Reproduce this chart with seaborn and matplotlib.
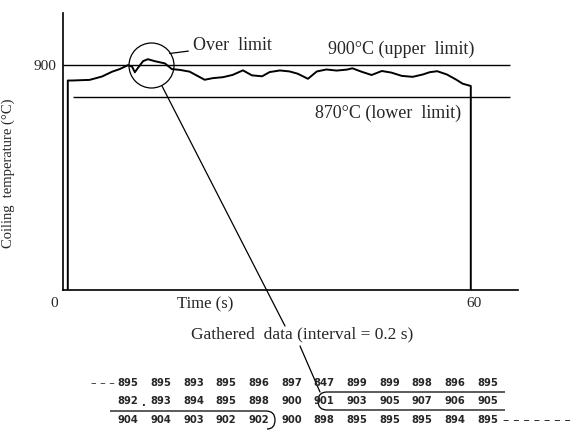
import matplotlib
matplotlib.use("Agg")
import matplotlib.pyplot as plt
import matplotlib.transforms as mtransforms
from matplotlib.lines import Line2D
from matplotlib.path import Path
from matplotlib.patches import PathPatch
import seaborn as sns

# ---------------- data ----------------
time_s = [0.7, 0.7, 1.3, 3.9, 5.7, 7.2, 8.3, 9.5, 10.1, 10.5,
          10.9, 11.7, 12.4, 13.4, 14.9, 15.9, 17.1, 18.5, 20.7, 21.9,
          23.4, 24.8, 26.3, 27.6, 29.1, 30.2, 31.7, 33.1, 34.3, 35.8,
          37.1, 38.5, 40.0, 41.5, 42.3, 43.6, 45.1, 46.6, 48.0, 49.5,
          51.1, 52.6, 53.6, 54.7, 56.1, 57.5, 58.4, 59.4, 59.6, 59.6]
temp_c = [680, 885.6, 885.6, 886.2, 889.3, 893.8, 896.2, 899.8, 898.4, 893.2,
          896.8, 903.5, 905.3, 903.5, 901.4, 896.2, 895.4, 893.8, 886.3, 887.8,
          888.7, 890.8, 895.0, 890.4, 889.5, 893.4, 894.9, 894.0, 891.9, 887.2,
          894.0, 895.8, 894.8, 895.7, 896.9, 893.8, 890.7, 894.4, 892.9, 889.9,
          889.0, 891.2, 893.3, 894.2, 891.2, 886.3, 882.7, 880.9, 880.5, 680]

upper_limit = 900
lower_limit = 870
upper_span = [0.0, 65.3]
lower_span = [1.5, 65.4]

x_ticks = [0, 60]
x_tick_labels = ["0", "60"]
y_ticks = [900]
y_tick_labels = ["900"]

over_limit_center = (12.8, 899.5)

row1 = [895, 895, 893, 895, 896, 897, 847, 899, 899, 898, 896, 895]
row2 = [892, 893, 894, 895, 898, 900, 901, 903, 905, 907, 906, 905]
row3 = [904, 904, 903, 902, 902, 900, 898, 895, 895, 895, 894, 895]

# ---------------- figure ----------------
W, H = 582, 438
sns.set_theme(style="white")
plt.rcParams["font.family"] = ["Liberation Serif", "DejaVu Serif"]

fig = plt.figure(figsize=(W / 100, H / 100), dpi=100)
px = mtransforms.Affine2D().scale(1 / W, -1 / H).translate(0, 1) + fig.transFigure

ax = fig.add_axes([63 / W, 1 - 290 / H, (518 - 63) / W, (290 - 13) / H])
ax.set_xlim(0, 66.5)
ax.set_ylim(692, 948)

sns.lineplot(x=time_s, y=temp_c, ax=ax, sort=False, estimator=None,
             color="black", linewidth=1.4)

ax.hlines(upper_limit, *upper_span, color="black", linewidth=1.0)
ax.hlines(lower_limit, *lower_span, color="black", linewidth=1.0)

sns.despine(ax=ax)
for s in ["left", "bottom"]:
    ax.spines[s].set_color("black")
    ax.spines[s].set_linewidth(1.2)

ax.set_xticks(x_ticks)
ax.set_xticklabels(x_tick_labels, fontsize=11)
ax.set_yticks(y_ticks)
ax.set_yticklabels(y_tick_labels, fontsize=11)
ax.tick_params(axis="x", length=0, pad=5)
ax.tick_params(axis="y", length=3, width=1, direction="out", pad=2, color="black")
lbl0 = ax.get_xticklabels()[0]
lbl0.set_transform(lbl0.get_transform() + mtransforms.ScaledTranslation(-9 / 100, 0, fig.dpi_scale_trans))

ax.set_ylabel("Coiling  temperature (°C)", fontsize=10.5)
ax.yaxis.set_label_coords((15 - 63) / 455, 0.42)
ax.set_xlabel("Time (s)", fontsize=12)
ax.xaxis.set_label_coords((205 - 63) / 455, -6 / 277)
ax.xaxis.label.set_va("top")

# over-limit circle and annotations
ax.plot([over_limit_center[0]], [over_limit_center[1]], marker="o", ms=32.4,
        mfc="none", mec="black", mew=0.9)
ax.annotate("Over  limit", xy=(15.6, 910.6), xytext=(19.0, 918),
            fontsize=13, ha="left", va="center",
            arrowprops=dict(arrowstyle="-", color="black", lw=0.9,
                            shrinkA=1, shrinkB=0))
ax.text(49.4, 914.5, "900°C (upper  limit)", fontsize=13, ha="center", va="center")
ax.text(47.5, 855, "870°C (lower  limit)", fontsize=13, ha="center", va="center")

# leader lines
fig.add_artist(Line2D([162, 285], [86, 326], transform=px, color="black", lw=0.9))
fig.add_artist(Line2D([300, 320], [346, 392], transform=px, color="black", lw=0.9))

fig.text(302, 334, "Gathered  data (interval = 0.2 s)", transform=px,
         fontsize=12.5, ha="center", va="center")

# data table
col_x0, col_dx = 128, 32.7
row_y = [383, 401, 420]
tfont = dict(family="DejaVu Sans", fontsize=7.2, fontweight="bold",
             ha="center", va="center", transform=px)
for ry, vals in zip(row_y, [row1, row2, row3]):
    for i, v in enumerate(vals):
        fig.text(col_x0 + i * col_dx, ry, str(v), **tfont)
fig.text(col_x0 - 13, row_y[0], "\u2013 \u2013 \u2013", transform=px, family="DejaVu Sans",
         fontsize=8, ha="right", va="center")
fig.text(col_x0 + 0.5 * col_dx, row_y[1] + 2, ".", **tfont)
fig.text(503, row_y[2], "\u2013 \u2013 \u2013 \u2013 \u2013 \u2013 \u2013", transform=px,
         family="DejaVu Sans", fontsize=9, ha="left", va="center")

# rounded enclosures of over-limit values
pA = Path([(505, 392), (327, 392), (318, 392), (318, 401), (318, 410), (327, 410), (505, 410)],
          [Path.MOVETO, Path.LINETO, Path.CURVE3, Path.CURVE3, Path.CURVE3, Path.CURVE3, Path.LINETO])
fig.add_artist(PathPatch(pA, transform=px, fill=False, edgecolor="black", lw=0.9))
pB = Path([(110, 411), (266, 411), (275, 411), (275, 420), (275, 429), (267, 429)],
          [Path.MOVETO, Path.LINETO, Path.CURVE3, Path.CURVE3, Path.CURVE3, Path.CURVE3])
fig.add_artist(PathPatch(pB, transform=px, fill=False, edgecolor="black", lw=0.9))

fig.savefig("out.png", dpi=100, facecolor="white")
